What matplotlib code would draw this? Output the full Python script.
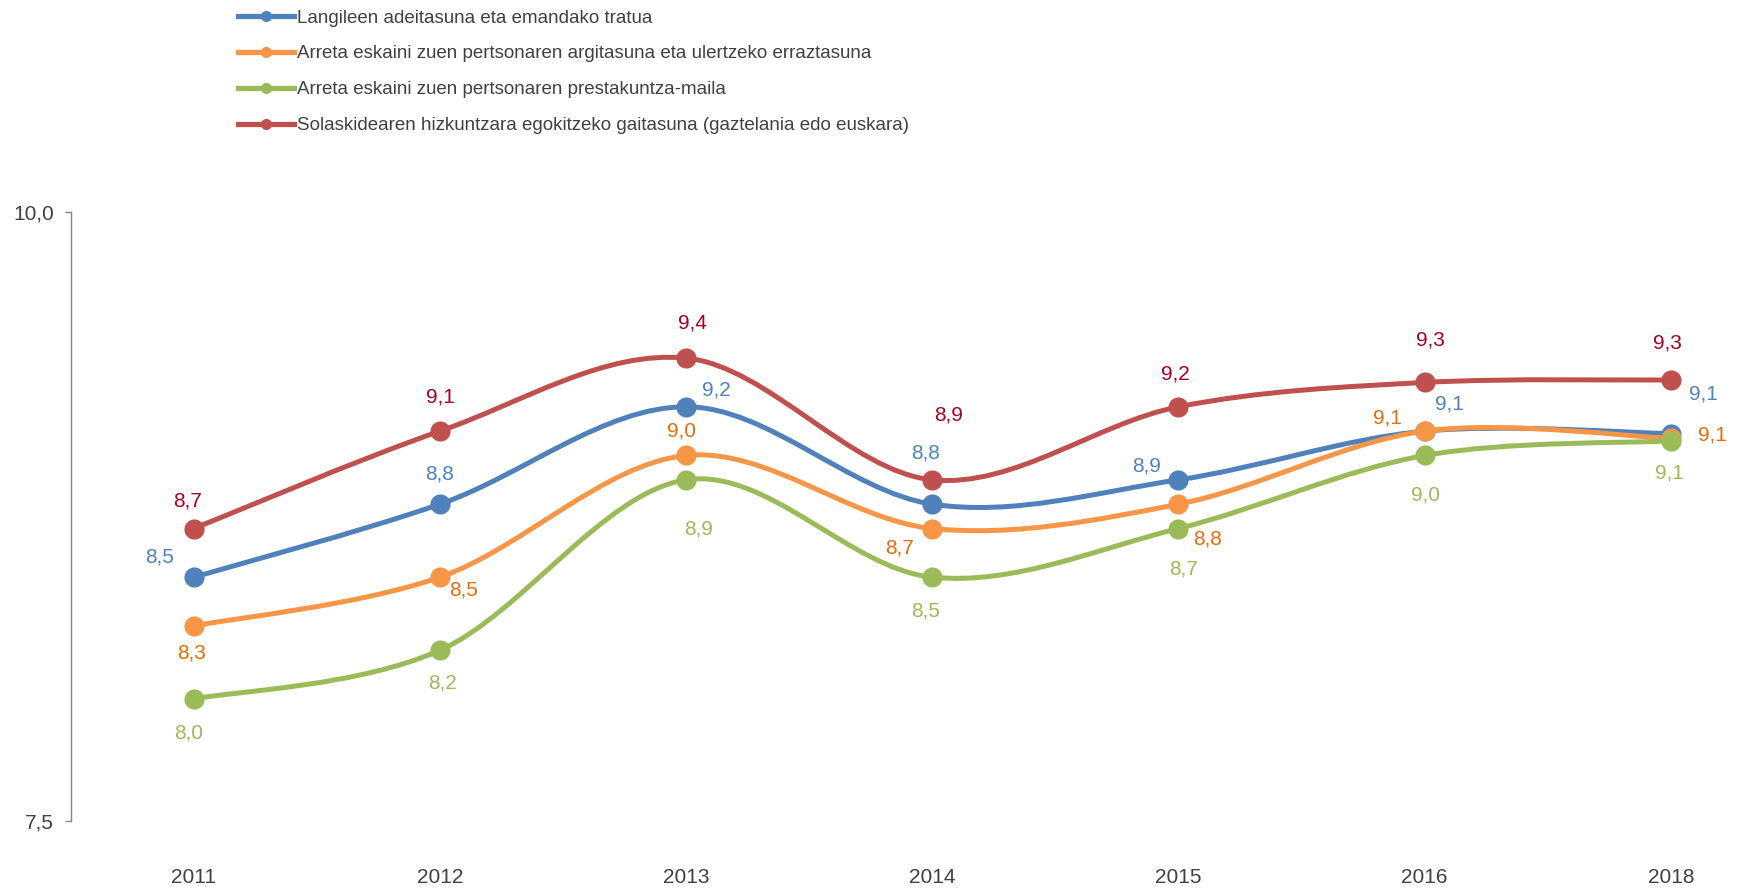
import matplotlib.pyplot as plt
import numpy as np
from matplotlib.lines import Line2D
from matplotlib.path import Path
from matplotlib.patches import PathPatch

plt.rcParams["font.family"] = ["Liberation Sans", "DejaVu Sans"]

YEARS = ["2011", "2012", "2013", "2014", "2015", "2016", "2018"]

SERIES_NAMES = [
    "Langileen adeitasuna eta emandako tratua",
    "Arreta eskaini zuen pertsonaren argitasuna eta ulertzeko erraztasuna",
    "Arreta eskaini zuen pertsonaren prestakuntza-maila",
    "Solaskidearen hizkuntzara egokitzeko gaitasuna (gaztelania edo euskara)",
]

ADEITASUNA = [8.50, 8.80, 9.20, 8.80, 8.90, 9.10, 9.09]
ARGITASUNA = [8.30, 8.50, 9.00, 8.70, 8.80, 9.10, 9.07]
PRESTAKUNTZA = [8.00, 8.20, 8.90, 8.50, 8.70, 9.00, 9.06]
HIZKUNTZA = [8.70, 9.10, 9.40, 8.90, 9.20, 9.30, 9.31]

LINE_COLORS = ["#4F81BD", "#F79646", "#9BBB59", "#C0504D"]
LABEL_COLORS = ["#4F81BD", "#E46C0A", "#9BBB59", "#A50021"]

# where each value label sits relative to its marker (pixels)
LABEL_OFFSETS = [
    [(-34, 20), (0, 30), (30, 17), (-7, 51), (-32, 14), (25, 27), (33, 40)],
    [(-2, -27), (24, -13), (-5, 24), (-33, -19), (29, -35), (-37, 13), (42, 3)],
    [(-5, -34), (3, -33), (12, -49), (-7, -34), (5, -40), (1, -40), (-1, -32)],
    [(-6, 28), (0, 34), (6, 35), (16, 65), (-3, 33), (6, 42), (-3, 37)],
]


def smooth_path(xs, ys):
    """Bezier path through the points, spreadsheet-style smoothed line."""
    pts = np.column_stack([xs, ys]).astype(float)
    n = len(pts)
    verts = [pts[0]]
    codes = [Path.MOVETO]
    for i in range(n - 1):
        p0 = pts[max(i - 1, 0)]
        p1 = pts[i]
        p2 = pts[i + 1]
        p3 = pts[min(i + 2, n - 1)]
        c1 = p1 + (p2 - p0) / 6.0
        c2 = p2 - (p3 - p1) / 6.0
        verts += [c1, c2, p2]
        codes += [Path.CURVE4] * 3
    return Path(verts, codes)


W, H = 1743, 890
fig = plt.figure(figsize=(W / 100, H / 100), dpi=100)

left_px, bottom_px, top_px = 70.7, H - 820.7, H - 212.0
step_px = (1670 - 193) / 6
x_right = (W - left_px) / step_px - 0.5
ax = fig.add_axes([left_px / W, bottom_px / H, (W - left_px) / W, (top_px - bottom_px) / H])

x = np.arange(len(YEARS))
all_series = [ADEITASUNA, ARGITASUNA, PRESTAKUNTZA, HIZKUNTZA]

for k, values in enumerate(all_series):
    color = LINE_COLORS[k]
    patch = PathPatch(smooth_path(x, values), facecolor="none", edgecolor=color,
                      linewidth=3.6, capstyle="round", joinstyle="round", zorder=2 + k)
    patch.set_clip_on(False)
    ax.add_patch(patch)
    ax.plot(x, values, linestyle="none", marker="o", markersize=14.5, color=color,
            markeredgewidth=0, zorder=2 + k, clip_on=False)
    for i, v in enumerate(values):
        dx, dy = LABEL_OFFSETS[k][i]
        ax.annotate(f"{v:.1f}".replace(".", ","), (x[i], v), xytext=(dx, dy),
                    textcoords="offset pixels", ha="center", va="center",
                    fontsize=15, color=LABEL_COLORS[k], zorder=10)

ax.set_xlim(-0.5, x_right)
ax.set_ylim(7.5, 10.0)
ax.set_xticks(x)
ax.set_xticklabels(YEARS)
ax.set_yticks([7.5, 10.0])
ax.set_yticklabels(["7,5", "10,0"])

for side in ["top", "right", "bottom"]:
    ax.spines[side].set_visible(False)
ax.spines["left"].set_color("#868686")
ax.spines["left"].set_linewidth(1.0)

ax.tick_params(axis="y", direction="out", length=4.5, width=1.0, color="#868686",
               pad=7.5, labelsize=15, labelcolor="#404040")
ax.tick_params(axis="x", length=0, pad=34, labelsize=15, labelcolor="#404040")

handles = [
    Line2D([], [], color=c, linewidth=3.8, marker="o", markersize=8, markeredgewidth=0)
    for c in LINE_COLORS
]
fig.legend(handles, SERIES_NAMES, loc="upper left",
           bbox_to_anchor=(238 / W, 1 - 9.5 / H), bbox_transform=fig.transFigure,
           frameon=False, fontsize=13.5, handlelength=3.0, handletextpad=0.16,
           labelspacing=1.0, borderpad=0, borderaxespad=0, labelcolor="#404040")

fig.savefig("out.png", dpi=100)
